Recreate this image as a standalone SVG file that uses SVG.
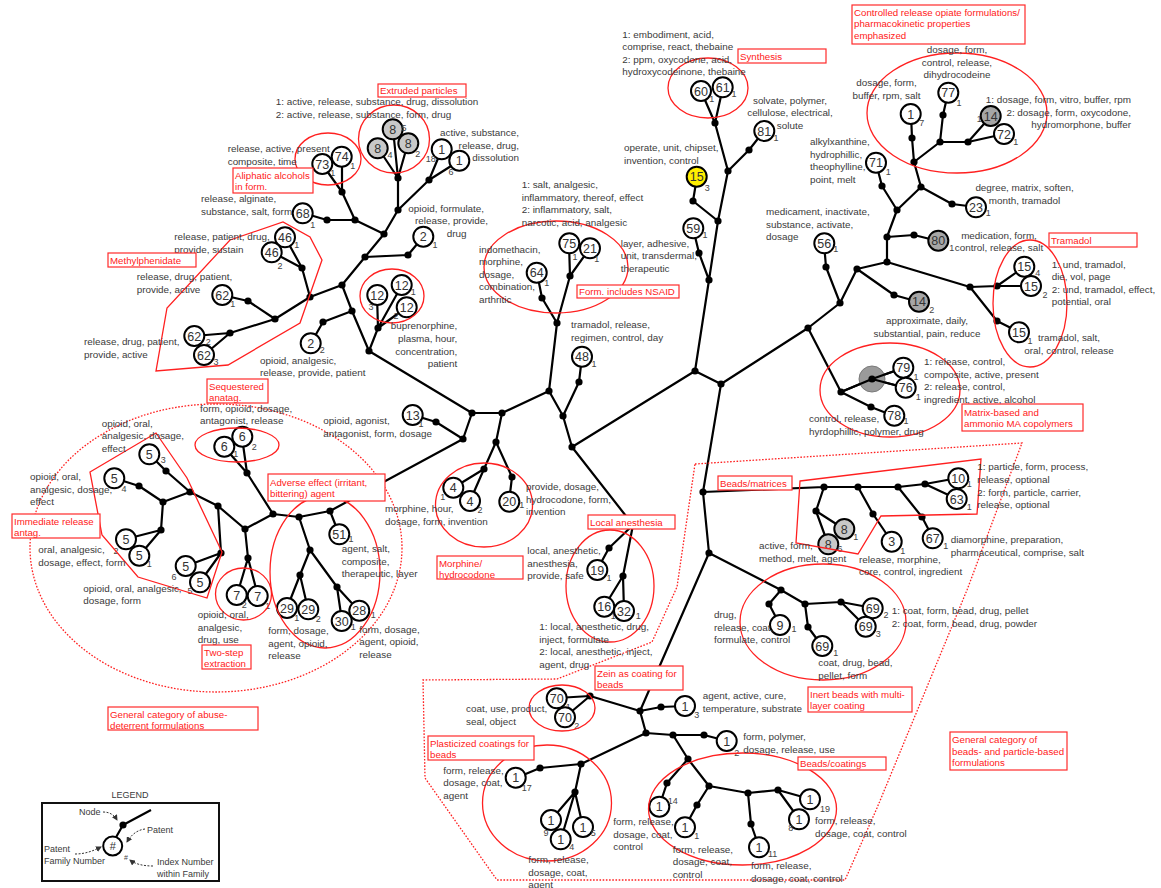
<svg xmlns="http://www.w3.org/2000/svg" width="1161" height="888" viewBox="0 0 1161 888">
<defs>
<style>
text{font-family:"Liberation Sans",Arial,sans-serif}
.conn{stroke:#000;stroke-width:2.2;fill:none;stroke-linecap:round}
.j circle{fill:#000}
.pn circle{fill:#fff;stroke:#000;stroke-width:2}
.pn circle.lg{fill:#c8c8c8}
.pn circle.dg{fill:#a6a6a6}
.pn circle.yl{fill:#ffee00}
.pn text{font-size:12.5px;fill:#333;text-anchor:middle}
.pn text.ix{font-size:9px;fill:#444}
.lbl{font-size:9.9px;fill:#3a3a3a}
.mid{text-anchor:middle}
.end{text-anchor:end}
.rb rect{fill:#fff;stroke:#ff2a2a;stroke-width:1.2}
.rb text{fill:#ff2020;font-size:9.7px}
.re{fill:none;stroke:#ff2020;stroke-width:1.3}
.rd{fill:none;stroke:#ff2020;stroke-width:1.3;stroke-dasharray:1.6 1.6}
.leg{font-size:9px;fill:#3a3a3a}
.la{fill:none;stroke:#333;stroke-width:1;stroke-dasharray:2 1.5}
</style>
<marker id="ah" markerWidth="6" markerHeight="6" refX="5" refY="3" orient="auto"><path d="M0,0L6,3L0,6z" fill="#333"/></marker>
</defs>
<rect width="1161" height="888" fill="#fff"/>

<g id="connectors">
<path class="conn" d="M472,413L502,413M472,413L369,351M472,413L463,439M502,413L496,442M502,413L549,391M549,391L557,323M549,391L563,416M563,416L579,382M579,382L582,357M563,416L572,447M572,447L695,371M572,447L633,525M695,371L721,384M695,371L709,280M721,384L808,328M721,384L703,492M808,328L840,303M808,328L841,392M840,303L826,267M826,267L824,243M840,303L857,269M857,269L887,262M857,269L894,295M894,295L919,302M887,262L887,237M887,262L970,287M887,237L914,235M914,235L938,241M887,237L897,210M897,210L882,186M882,186L876,163M897,210L921,187M921,187L952,204M952,204L976,207M921,187L914,162M914,162L912,138M912,138L911,114M914,162L940,142M940,142L943,115M943,115L948,93M940,142L968,142M968,142L991,116M968,142L1004,134M970,287L997,286M997,286L1024,267M997,286L1031,286M970,287L997,321M997,321L1019,332M841,392L872,379M872,379L903,368M872,379L906,388M841,392L871,407M871,407L894,416"/>
<path class="conn" d="M703,492L824,487M824,487L858,487M858,487L898,487M898,487L925,484M925,484L958,478M925,484L957,499M824,487L816,511M816,511L844,529M816,511L828,544M858,487L873,514M873,514L892,542M898,487L922,517M922,517L933,538M703,492L709,553M709,553L781,590M781,590L769,604M769,604L780,625M781,590L805,604M805,604L808,627M808,627L822,646M805,604L841,602M841,602L873,608M841,602L866,627M709,553L640,711M640,711L661,707M661,707L685,706M640,711L646,733M640,711L590,696M590,696L557,698M590,696L565,717M646,733L673,735M673,735L704,735M704,735L727,741M673,735L688,759M688,759L667,783M667,783L659,807M688,759L709,786M709,786L697,805M697,805L685,827M709,786L748,793M748,793L751,824M751,824L759,847M748,793L778,790M778,790L810,799M778,790L799,819M646,733L581,764M581,764L540,768M540,768L516,778M581,764L575,792M575,792L551,820M575,792L561,839M575,792L583,827"/>
<path class="conn" d="M709,280L699,253M699,253L693,228M709,280L718,221M718,221L693,201M693,201L697,177M718,221L728,171M728,171L749,150M749,150L764,131M728,171L715,123M715,123L701,91M715,123L723,87M557,323L570,276M570,276L569,243M570,276L590,248M557,323L542,298M542,298L537,273M633,525L609,548M609,548L597,570M633,525L623,576M623,576L604,607M623,576L624,611M496,442L484,469M484,469L453,488M484,469L470,501M496,442L512,477M512,477L509,502"/>
<path class="conn" d="M463,439L436,422M436,422L413,415M463,439L330,511M330,511L339,534M330,511L299,517M299,517L273,514M299,517L310,550M310,550L300,575M300,575L287,608M300,575L308,609M310,550L337,587M337,587L342,621M337,587L359,611M273,514L247,473M247,473L224,447M247,473L242,437M273,514L245,529M245,529L218,506M218,506L190,492M190,492L166,471M166,471L149,454M190,492L163,502M163,502L139,486M139,486L114,478M163,502L161,530M161,530L126,539M161,530L139,556M218,506L221,553M221,553L186,566M221,553L200,582M245,529L248,558M248,558L237,595M248,558L258,596"/>
<path class="conn" d="M369,351L378,328M378,328L377,295M378,328L402,285M378,328L407,307M369,351L352,311M352,311L323,322M323,322L311,343M352,311L342,285M342,285L310,297M342,285L365,257M365,257L408,255M408,255L423,237M365,257L384,234M384,234L398,210M398,210L398,178M398,178L393,129M398,178L378,148M398,178L408,143M398,210L429,180M429,180L442,149M429,180L459,161M384,234L355,220M355,220L327,220M327,220L303,213M355,220L342,192M342,192L322,164M342,192L342,157M310,297L302,268M302,268L285,237M302,268L272,252M310,297L275,319M275,319L248,301M248,301L222,295M275,319L230,333M230,333L194,336M230,333L204,355"/>
</g>

<g id="junctions" class="j">
<circle cx="472" cy="413" r="3.6"/><circle cx="502" cy="413" r="3.6"/><circle cx="369" cy="351" r="3.6"/><circle cx="463" cy="439" r="3.6"/><circle cx="496" cy="442" r="3.6"/><circle cx="549" cy="391" r="3.6"/><circle cx="557" cy="323" r="3.6"/><circle cx="563" cy="416" r="3.6"/><circle cx="579" cy="382" r="3.6"/><circle cx="572" cy="447" r="3.6"/><circle cx="695" cy="371" r="3.6"/><circle cx="721" cy="384" r="3.6"/><circle cx="808" cy="328" r="3.6"/><circle cx="840" cy="303" r="3.6"/><circle cx="857" cy="269" r="3.6"/><circle cx="887" cy="262" r="3.6"/><circle cx="887" cy="237" r="3.6"/><circle cx="897" cy="210" r="3.6"/><circle cx="921" cy="187" r="3.6"/><circle cx="914" cy="162" r="3.6"/><circle cx="940" cy="142" r="3.6"/><circle cx="968" cy="142" r="3.6"/><circle cx="970" cy="287" r="3.6"/><circle cx="997" cy="286" r="3.6"/><circle cx="997" cy="321" r="3.6"/><circle cx="826" cy="267" r="3.6"/><circle cx="894" cy="295" r="3.6"/><circle cx="914" cy="235" r="3.6"/><circle cx="882" cy="186" r="3.6"/><circle cx="952" cy="204" r="3.6"/><circle cx="912" cy="138" r="3.6"/><circle cx="943" cy="115" r="3.6"/><circle cx="841" cy="392" r="3.6"/><circle cx="871" cy="407" r="3.6"/>
<circle cx="703" cy="492" r="3.6"/><circle cx="709" cy="553" r="3.6"/><circle cx="824" cy="487" r="3.6"/><circle cx="858" cy="487" r="3.6"/><circle cx="898" cy="487" r="3.6"/><circle cx="925" cy="484" r="3.6"/><circle cx="816" cy="511" r="3.6"/><circle cx="873" cy="514" r="3.6"/><circle cx="922" cy="517" r="3.6"/><circle cx="781" cy="590" r="3.6"/><circle cx="769" cy="604" r="3.6"/><circle cx="805" cy="604" r="3.6"/><circle cx="808" cy="627" r="3.6"/><circle cx="841" cy="602" r="3.6"/><circle cx="640" cy="711" r="3.6"/><circle cx="661" cy="707" r="3.6"/><circle cx="646" cy="733" r="3.6"/><circle cx="673" cy="735" r="3.6"/><circle cx="704" cy="735" r="3.6"/><circle cx="688" cy="759" r="3.6"/><circle cx="667" cy="783" r="3.6"/><circle cx="709" cy="786" r="3.6"/><circle cx="697" cy="805" r="3.6"/><circle cx="748" cy="793" r="3.6"/><circle cx="751" cy="824" r="3.6"/><circle cx="778" cy="790" r="3.6"/><circle cx="581" cy="764" r="3.6"/><circle cx="540" cy="768" r="3.6"/><circle cx="575" cy="792" r="3.6"/><circle cx="590" cy="696" r="3.6"/>
<circle cx="709" cy="280" r="3.6"/><circle cx="699" cy="253" r="3.6"/><circle cx="718" cy="221" r="3.6"/><circle cx="693" cy="201" r="3.6"/><circle cx="728" cy="171" r="3.6"/><circle cx="749" cy="150" r="3.6"/><circle cx="715" cy="123" r="3.6"/><circle cx="570" cy="276" r="3.6"/><circle cx="542" cy="298" r="3.6"/><circle cx="633" cy="525" r="3.6"/><circle cx="609" cy="548" r="3.6"/><circle cx="623" cy="576" r="3.6"/><circle cx="484" cy="469" r="3.6"/><circle cx="512" cy="477" r="3.6"/>
<circle cx="436" cy="422" r="3.6"/><circle cx="273" cy="514" r="3.6"/><circle cx="330" cy="511" r="3.6"/><circle cx="299" cy="517" r="3.6"/><circle cx="310" cy="550" r="3.6"/><circle cx="300" cy="575" r="3.6"/><circle cx="337" cy="587" r="3.6"/><circle cx="247" cy="473" r="3.6"/><circle cx="245" cy="529" r="3.6"/><circle cx="248" cy="558" r="3.6"/><circle cx="218" cy="506" r="3.6"/><circle cx="190" cy="492" r="3.6"/><circle cx="166" cy="471" r="3.6"/><circle cx="163" cy="502" r="3.6"/><circle cx="139" cy="486" r="3.6"/><circle cx="161" cy="530" r="3.6"/><circle cx="221" cy="553" r="3.6"/>
<circle cx="378" cy="328" r="3.6"/><circle cx="352" cy="311" r="3.6"/><circle cx="323" cy="322" r="3.6"/><circle cx="342" cy="285" r="3.6"/><circle cx="365" cy="257" r="3.6"/><circle cx="408" cy="255" r="3.6"/><circle cx="384" cy="234" r="3.6"/><circle cx="398" cy="210" r="3.6"/><circle cx="398" cy="178" r="3.6"/><circle cx="429" cy="180" r="3.6"/><circle cx="355" cy="220" r="3.6"/><circle cx="327" cy="220" r="3.6"/><circle cx="342" cy="192" r="3.6"/><circle cx="310" cy="297" r="3.6"/><circle cx="302" cy="268" r="3.6"/><circle cx="275" cy="319" r="3.6"/><circle cx="248" cy="301" r="3.6"/><circle cx="230" cy="333" r="3.6"/>
</g>

<g id="matrix-group-node">
<circle cx="872" cy="379" r="13" fill="#9a9a9a" stroke="#7a7a7a" stroke-width="1"/>
<path class="conn" d="M872,379L903,368M872,379L906,388M841,392L872,379"/>
<circle cx="872" cy="379" r="3.6" fill="#000"/>
</g>

<g id="n60" class="pn"><circle cx="701" cy="91" r="10"/><text x="701" y="95.5">60</text><text class="ix" x="711.7" y="102.3">1</text></g>
<g id="n61" class="pn"><circle cx="722.7" cy="87.3" r="10"/><text x="722.7" y="91.8">61</text><text class="ix" x="734" y="97.3">1</text></g>
<g id="n81" class="pn"><circle cx="764.3" cy="131" r="10"/><text x="764.3" y="135.5">81</text><text class="ix" x="776" y="141.3">1</text></g>
<g id="n15y" class="pn"><circle class="yl" cx="696.7" cy="176.7" r="10"/><text x="696.7" y="181.2">15</text><text class="ix" x="707.3" y="190.7">3</text></g>
<g id="n59" class="pn"><circle cx="693.3" cy="228.3" r="10"/><text x="693.3" y="232.8">59</text><text class="ix" x="705" y="238">1</text></g>
<g id="n56" class="pn"><circle cx="824.3" cy="243.3" r="10"/><text x="824.3" y="247.8">56</text><text class="ix" x="835.7" y="252.3">1</text></g>
<g id="n71" class="pn"><circle cx="876" cy="162.7" r="10"/><text x="876" y="167.2">71</text><text class="ix" x="888.3" y="174.7">1</text></g>
<g id="n1-7" class="pn"><circle cx="910.7" cy="114" r="10"/><text x="910.7" y="118.5">1</text><text class="ix" x="921.7" y="125.7">7</text></g>
<g id="n77" class="pn"><circle cx="948.3" cy="92.7" r="10"/><text x="948.3" y="97.2">77</text><text class="ix" x="959" y="106.3">1</text></g>
<g id="n14a" class="pn"><circle class="dg" cx="990.7" cy="116" r="10"/><text x="990.7" y="120.5">14</text><text class="ix" x="979.3" y="122.3">1</text></g>
<g id="n72" class="pn"><circle cx="1004" cy="134" r="10"/><text x="1004" y="138.5">72</text><text class="ix" x="1015.7" y="144.7">1</text></g>
<g id="n23" class="pn"><circle cx="976" cy="207.3" r="10"/><text x="976" y="211.8">23</text><text class="ix" x="988.3" y="216.3">1</text></g>
<g id="n80" class="pn"><circle class="dg" cx="938.3" cy="240.7" r="10"/><text x="938.3" y="245.2">80</text><text class="ix" x="951.7" y="251.3">1</text></g>
<g id="n15-4" class="pn"><circle cx="1024.3" cy="266.7" r="10"/><text x="1024.3" y="271.2">15</text><text class="ix" x="1037.7" y="275.7">4</text></g>
<g id="n15-2" class="pn"><circle cx="1031" cy="286" r="10"/><text x="1031" y="290.5">15</text><text class="ix" x="1045" y="298">2</text></g>
<g id="n15-1" class="pn"><circle cx="1019" cy="332.3" r="10"/><text x="1019" y="336.8">15</text><text class="ix" x="1030" y="344">1</text></g>
<g id="n14b" class="pn"><circle class="dg" cx="919" cy="301.7" r="10"/><text x="919" y="306.2">14</text><text class="ix" x="931.7" y="313">2</text></g>
<g id="n79" class="pn"><circle cx="903.3" cy="367.7" r="10"/><text x="903.3" y="372.2">79</text><text class="ix" x="916" y="380.3">1</text></g>
<g id="n76" class="pn"><circle cx="905.7" cy="387.7" r="10"/><text x="905.7" y="392.2">76</text><text class="ix" x="918.3" y="400.3">1</text></g>
<g id="n78" class="pn"><circle cx="894.3" cy="415.7" r="10"/><text x="894.3" y="420.2">78</text><text class="ix" x="906" y="424">1</text></g>
<g id="n10" class="pn"><circle cx="958.3" cy="478.3" r="10"/><text x="958.3" y="482.8">10</text><text class="ix" x="969.3" y="487">1</text></g>
<g id="n63" class="pn"><circle cx="956.7" cy="499" r="10"/><text x="956.7" y="503.5">63</text><text class="ix" x="969.3" y="510.3">1</text></g>
<g id="n3" class="pn"><circle cx="891.7" cy="541.7" r="10"/><text x="891.7" y="546.2">3</text><text class="ix" x="902.7" y="553.7">1</text></g>
<g id="n67" class="pn"><circle cx="932.7" cy="538.3" r="10"/><text x="932.7" y="542.8">67</text><text class="ix" x="945.7" y="549">1</text></g>
<g id="n8-1" class="pn"><circle class="lg" cx="844.3" cy="529" r="10"/><text x="844.3" y="533.5">8</text><text class="ix" x="855.7" y="539.7">1</text></g>
<g id="n8-6" class="pn"><circle class="lg" cx="828.3" cy="544.3" r="10"/><text x="828.3" y="548.8">8</text><text class="ix" x="840" y="552.3">6</text></g>
<g id="n9" class="pn"><circle cx="780" cy="625" r="10"/><text x="780" y="629.5">9</text><text class="ix" x="794" y="632.3">1</text></g>
<g id="n69-1" class="pn"><circle cx="822.3" cy="646" r="10"/><text x="822.3" y="650.5">69</text><text class="ix" x="835.7" y="655.7">1</text></g>
<g id="n69-2" class="pn"><circle cx="872.7" cy="608.3" r="10"/><text x="872.7" y="612.8">69</text><text class="ix" x="886" y="618">2</text></g>
<g id="n69-3" class="pn"><circle cx="865.7" cy="626.7" r="10"/><text x="865.7" y="631.2">69</text><text class="ix" x="878.3" y="637">3</text></g>
<g id="n70-1" class="pn"><circle cx="556.7" cy="698.3" r="10"/><text x="556.7" y="702.8">70</text><text class="ix" x="568.3" y="710.3">1</text></g>
<g id="n70-2" class="pn"><circle cx="565" cy="717.3" r="10"/><text x="565" y="721.8">70</text><text class="ix" x="576.7" y="729">2</text></g>
<g id="n1-3" class="pn"><circle cx="685" cy="706" r="10"/><text x="685" y="710.5">1</text><text class="ix" x="696.7" y="718">3</text></g>
<g id="n1-2" class="pn"><circle cx="726.7" cy="741" r="10"/><text x="726.7" y="745.5">1</text><text class="ix" x="736.7" y="756.3">2</text></g>
<g id="n1-14" class="pn"><circle cx="659.3" cy="806.7" r="10"/><text x="659.3" y="811.2">1</text><text class="ix" x="672.7" y="803.7">14</text></g>
<g id="n1-1" class="pn"><circle cx="685" cy="827.3" r="10"/><text x="685" y="831.8">1</text><text class="ix" x="696.7" y="839">1</text></g>
<g id="n1-11" class="pn"><circle cx="759" cy="847.3" r="10"/><text x="759" y="851.8">1</text><text class="ix" x="772.7" y="857">11</text></g>
<g id="n1-19" class="pn"><circle cx="810" cy="799.3" r="10"/><text x="810" y="803.8">1</text><text class="ix" x="825" y="812.3">19</text></g>
<g id="n1-8" class="pn"><circle cx="799" cy="819.3" r="10"/><text x="799" y="823.8">1</text><text class="ix" x="790.7" y="831.3">8</text></g>
<g id="n1-17" class="pn"><circle cx="515.7" cy="777.7" r="10"/><text x="515.7" y="782.2">1</text><text class="ix" x="526.7" y="791.3">17</text></g>
<g id="n1-9" class="pn"><circle cx="551" cy="820" r="10"/><text x="551" y="824.5">1</text><text class="ix" x="546" y="835.7">9</text></g>
<g id="n1-4" class="pn"><circle cx="560.7" cy="839.3" r="10"/><text x="560.7" y="843.8">1</text><text class="ix" x="571.7" y="850.3">4</text></g>
<g id="n1-5" class="pn"><circle cx="583" cy="827" r="10"/><text x="583" y="831.5">1</text><text class="ix" x="593.3" y="835.7">5</text></g>
<g id="n16" class="pn"><circle cx="604.3" cy="606.7" r="10"/><text x="604.3" y="611.2">16</text><text class="ix" x="613.3" y="619">1</text></g>
<g id="n32" class="pn"><circle cx="624" cy="611" r="10"/><text x="624" y="615.5">32</text><text class="ix" x="638.3" y="619">1</text></g>
<g id="n19" class="pn"><circle cx="597.3" cy="570" r="10"/><text x="597.3" y="574.5">19</text><text class="ix" x="609" y="581.3">1</text></g>
<g id="n48" class="pn"><circle cx="582" cy="356.7" r="10"/><text x="582" y="361.2">48</text><text class="ix" x="594" y="367">1</text></g>
<g id="n64" class="pn"><circle cx="536.7" cy="272.7" r="10"/><text x="536.7" y="277.2">64</text><text class="ix" x="546.7" y="285.7">1</text></g>
<g id="n75" class="pn"><circle cx="569.3" cy="243.3" r="10"/><text x="569.3" y="247.8">75</text><text class="ix" x="575" y="260.3">1</text></g>
<g id="n21" class="pn"><circle cx="590" cy="248.3" r="10"/><text x="590" y="252.8">21</text><text class="ix" x="596.7" y="262.3">1</text></g>
<g id="n4-1" class="pn"><circle cx="453.3" cy="487.7" r="10"/><text x="453.3" y="492.2">4</text><text class="ix" x="442.7" y="499.7">1</text></g>
<g id="n4-2" class="pn"><circle cx="470" cy="501" r="10"/><text x="470" y="505.5">4</text><text class="ix" x="480" y="513">2</text></g>
<g id="n20" class="pn"><circle cx="509.3" cy="501.7" r="10"/><text x="509.3" y="506.2">20</text><text class="ix" x="521.7" y="508">1</text></g>
<g id="n13" class="pn"><circle cx="412.7" cy="415" r="10"/><text x="412.7" y="419.5">13</text><text class="ix" x="421" y="427.3">1</text></g>
<g id="n51" class="pn"><circle cx="339.3" cy="534.3" r="10"/><text x="339.3" y="538.8">51</text><text class="ix" x="351" y="542.3">1</text></g>
<g id="n29-1" class="pn"><circle cx="287" cy="608" r="10"/><text x="287" y="612.5">29</text><text class="ix" x="296.7" y="621.3">1</text></g>
<g id="n29-2" class="pn"><circle cx="308.3" cy="609.3" r="10"/><text x="308.3" y="613.8">29</text><text class="ix" x="318.3" y="622.3">2</text></g>
<g id="n30" class="pn"><circle cx="341.7" cy="621" r="10"/><text x="341.7" y="625.5">30</text><text class="ix" x="353.3" y="630.3">1</text></g>
<g id="n28" class="pn"><circle cx="359.3" cy="610.7" r="10"/><text x="359.3" y="615.2">28</text><text class="ix" x="373.3" y="618">1</text></g>
<g id="n6-1" class="pn"><circle cx="224.3" cy="446.7" r="10"/><text x="224.3" y="451.2">6</text><text class="ix" x="235.7" y="457.3">1</text></g>
<g id="n6-2" class="pn"><circle cx="242.3" cy="436.7" r="10"/><text x="242.3" y="441.2">6</text><text class="ix" x="254.3" y="449.7">2</text></g>
<g id="n7-2" class="pn"><circle cx="236.7" cy="595" r="10"/><text x="236.7" y="599.5">7</text><text class="ix" x="244.3" y="607.5">2</text></g>
<g id="n7-1" class="pn"><circle cx="257.7" cy="596" r="10"/><text x="257.7" y="600.5">7</text><text class="ix" x="267.7" y="608.5">1</text></g>
<g id="n5-3" class="pn"><circle cx="149.3" cy="454.3" r="10"/><text x="149.3" y="458.8">5</text><text class="ix" x="163.3" y="463">3</text></g>
<g id="n5-4" class="pn"><circle cx="114.3" cy="478.3" r="10"/><text x="114.3" y="482.8">5</text><text class="ix" x="124" y="492.3">4</text></g>
<g id="n5-2" class="pn"><circle cx="126" cy="539.3" r="10"/><text x="126" y="543.8">5</text><text class="ix" x="116" y="553.7">2</text></g>
<g id="n5-1" class="pn"><circle cx="139.3" cy="555.7" r="10"/><text x="139.3" y="560.2">5</text><text class="ix" x="149.3" y="567.3">1</text></g>
<g id="n5-6" class="pn"><circle cx="185.7" cy="566" r="10"/><text x="185.7" y="570.5">5</text><text class="ix" x="174" y="579.7">6</text></g>
<g id="n5-5" class="pn"><circle cx="200" cy="582.3" r="10"/><text x="200" y="586.8">5</text><text class="ix" x="190" y="594">5</text></g>
<g id="n12-3" class="pn"><circle cx="377.3" cy="295" r="10"/><text x="377.3" y="299.5">12</text><text class="ix" x="371" y="310.3">3</text></g>
<g id="n12-1" class="pn"><circle cx="401.7" cy="285" r="10"/><text x="401.7" y="289.5">12</text><text class="ix" x="413.3" y="295.3">1</text></g>
<g id="n12-2" class="pn"><circle cx="406.7" cy="307.3" r="10"/><text x="406.7" y="311.8">12</text><text class="ix" x="396" y="319">2</text></g>
<g id="n2-2" class="pn"><circle cx="310.7" cy="343.3" r="10"/><text x="310.7" y="347.8">2</text><text class="ix" x="322.3" y="353">2</text></g>
<g id="n2-1" class="pn"><circle cx="423.3" cy="236.7" r="10"/><text x="423.3" y="241.2">2</text><text class="ix" x="435" y="248">1</text></g>
<g id="n8-5" class="pn"><circle class="lg" cx="392.7" cy="129.3" r="10"/><text x="392.7" y="133.8">8</text><text class="ix" x="404" y="131.3">5</text></g>
<g id="n8-4" class="pn"><circle class="lg" cx="377.7" cy="148.3" r="10"/><text x="377.7" y="152.8">8</text><text class="ix" x="390" y="158">4</text></g>
<g id="n8-2" class="pn"><circle class="lg" cx="408.3" cy="143.3" r="10"/><text x="408.3" y="147.8">8</text><text class="ix" x="417.7" y="157">2</text></g>
<g id="n1-18" class="pn"><circle cx="441.7" cy="149.3" r="10"/><text x="441.7" y="153.8">1</text><text class="ix" x="430.7" y="162.3">18</text></g>
<g id="n1-6" class="pn"><circle cx="459.3" cy="160.7" r="10"/><text x="459.3" y="165.2">1</text><text class="ix" x="451" y="174.7">6</text></g>
<g id="n68" class="pn"><circle cx="302.7" cy="213.3" r="10"/><text x="302.7" y="217.8">68</text><text class="ix" x="312.7" y="228">1</text></g>
<g id="n73" class="pn"><circle cx="322.3" cy="164" r="10"/><text x="322.3" y="168.5">73</text><text class="ix" x="332.7" y="175.7">1</text></g>
<g id="n74" class="pn"><circle cx="341.7" cy="156.7" r="10"/><text x="341.7" y="161.2">74</text><text class="ix" x="352.7" y="168.7">1</text></g>
<g id="n46-1" class="pn"><circle cx="285" cy="237.3" r="10"/><text x="285" y="241.8">46</text><text class="ix" x="296.7" y="248">1</text></g>
<g id="n46-2" class="pn"><circle cx="271.7" cy="252.3" r="10"/><text x="271.7" y="256.8">46</text><text class="ix" x="280" y="268.7">2</text></g>
<g id="n62-1" class="pn"><circle cx="222.3" cy="295" r="10"/><text x="222.3" y="299.5">62</text><text class="ix" x="232.7" y="307">1</text></g>
<g id="n62-2" class="pn"><circle cx="194.3" cy="336" r="10"/><text x="194.3" y="340.5">62</text><text class="ix" x="208.3" y="345.3">2</text></g>
<g id="n62-3" class="pn"><circle cx="204" cy="355" r="10"/><text x="204" y="359.5">62</text><text class="ix" x="216" y="364.7">3</text></g>

<g id="regions">
<ellipse class="re" cx="394" cy="139" rx="35.5" ry="34"/>
<ellipse class="re" cx="328" cy="159" rx="33" ry="26"/>
<ellipse class="re" cx="392" cy="296" rx="32" ry="27"/>
<ellipse class="re" cx="556" cy="267" rx="72" ry="46"/>
<ellipse class="re" cx="708" cy="88" rx="40" ry="30"/>
<ellipse class="re" cx="957" cy="113" rx="90" ry="60"/>
<ellipse class="re" cx="1030" cy="303.5" rx="37" ry="63.5"/>
<ellipse class="re" cx="890" cy="390" rx="70" ry="47"/>
<ellipse class="re" cx="237" cy="445" rx="42" ry="17"/>
<ellipse class="re" cx="243.5" cy="594" rx="28" ry="26"/>
<ellipse class="re" cx="325" cy="572" rx="55" ry="76"/>
<ellipse class="re" cx="484" cy="505" rx="48.5" ry="42"/>
<ellipse class="re" cx="610" cy="586" rx="44" ry="56"/>
<ellipse class="re" cx="562" cy="708" rx="33" ry="23"/>
<ellipse class="re" cx="547" cy="803" rx="64.5" ry="58"/>
<ellipse class="re" cx="742.5" cy="809" rx="94" ry="56"/>
<ellipse class="re" cx="823" cy="622" rx="83" ry="58"/>
<polygon class="re" points="230,240 283,222 310,237 322,260 300,323 228,365 156,371 167,308"/>
<polygon class="re" points="90,472 156,433 187,478 222,552 207,598 138,577 102,535"/>
<polygon class="re" points="800,481 981,459 977,514 881,516 858,554 796,543"/>
<ellipse class="rd" cx="216" cy="548" rx="186" ry="144"/>
<polygon class="rd" points="695,464 1022,443 967,590 877,808 845,880 497,880 425,778 423,680 557,679 652,642 677,587"/>
</g>

<g id="labels" class="lbl">
<text x="275.7" y="105">1: active, release, substance, drug, dissolution<tspan x="275.7" dy="12.5">2: active, release, substance, form, drug</tspan></text>
<text x="227.7" y="152">release, active, present<tspan x="227.7" dy="12.5">composite, time</tspan></text>
<text x="201" y="202">release, alginate,<tspan x="201" dy="12.5">substance, salt, form</tspan></text>
<text x="174.3" y="240">release, patient, drug,<tspan x="174.3" dy="12.5">provide, sustain</tspan></text>
<text x="136.7" y="280">release, drug, patient,<tspan x="136.7" dy="12.5">provide, active</tspan></text>
<text x="84" y="345">release, drug, patient,<tspan x="84" dy="12.5">provide, active</tspan></text>
<text x="260" y="363.5">opioid, analgesic,<tspan x="260" dy="12.5">release, provide, patient</tspan></text>
<text x="200" y="411.5">form, opioid, dosage,<tspan x="200" dy="12.5">antagonist, release</tspan></text>
<text x="101.7" y="426.5">opioid, oral,<tspan x="101.7" dy="12.5">analgesic, dosage,</tspan><tspan x="101.7" dy="12.5">effect</tspan></text>
<text x="30" y="480">opioid, oral,<tspan x="30" dy="12.5">analgesic, dosage,</tspan><tspan x="30" dy="12.5">effect</tspan></text>
<text x="38.3" y="553">oral, analgesic,<tspan x="38.3" dy="12.5">dosage, effect, form</tspan></text>
<text x="83.3" y="591.5">opioid, oral, analgesic,<tspan x="83.3" dy="12.5">dosage, form</tspan></text>
<text x="197.7" y="618">opioid, oral,<tspan x="197.7" dy="12.5">analgesic,</tspan><tspan x="197.7" dy="12.5">drug, use</tspan></text>
<text x="268.3" y="634">form, dosage,<tspan x="268.3" dy="12.5">agent, opioid,</tspan><tspan x="268.3" dy="12.5">release</tspan></text>
<text x="359.3" y="632.5">form, dosage,<tspan x="359.3" dy="12.5">agent, opioid,</tspan><tspan x="359.3" dy="12.5">release</tspan></text>
<text x="341.7" y="552">agent, salt,<tspan x="341.7" dy="12.5">composite,</tspan><tspan x="341.7" dy="12.5">therapeutic, layer</tspan></text>
<text x="385" y="512">morphine, hour,<tspan x="385" dy="12.5">dosage, form, invention</tspan></text>
<text x="323.3" y="424">opioid, agonist,<tspan x="323.3" dy="12.5">antagonist, form, dosage</tspan></text>
<text class="end" x="457.3" y="329">buprenorphine,<tspan x="457.3" dy="12.8">plasma, hour,</tspan><tspan x="457.3" dy="12.8">concentration,</tspan><tspan x="457.3" dy="12.8">patient</tspan></text>
<text x="408.3" y="211.5">opioid, formulate,<tspan x="415" dy="12.5">release, provide,</tspan><tspan x="446.7" dy="12.5">drug</tspan></text>
<text class="end" x="519" y="136">active, substance,<tspan x="519" dy="12.5">release, drug,</tspan><tspan x="519" dy="12.5">dissolution</tspan></text>
<text x="521.7" y="188">1: salt, analgesic,<tspan x="521.7" dy="12.5">inflammatory, thereof, effect</tspan><tspan x="521.7" dy="12.5">2: inflammatory, salt,</tspan><tspan x="521.7" dy="12.5">narcotic, acid, analgesic</tspan></text>
<text x="479" y="252.5">indomethacin,<tspan x="479" dy="12.5">morphine,</tspan><tspan x="479" dy="12.5">dosage,</tspan><tspan x="479" dy="12.5">combination,</tspan><tspan x="479" dy="12.5">arthritic</tspan></text>
<text x="571" y="327.5">tramadol, release,<tspan x="571" dy="13">regimen, control, day</tspan></text>
<text x="526" y="490">provide, dosage,<tspan x="526" dy="12.5">hydrocodone, form,</tspan><tspan x="526" dy="12.5">invention</tspan></text>
<text x="527.3" y="554">local, anesthetic,<tspan x="527.3" dy="12.5">anesthesia,</tspan><tspan x="527.3" dy="12.5">provide, safe</tspan></text>
<text x="539.3" y="630">1: local, anesthetic, drug,<tspan x="539.3" dy="12.5">inject, formulate</tspan><tspan x="539.3" dy="12.5">2: local, anesthetic, inject,</tspan><tspan x="539.3" dy="12.5">agent, drug</tspan></text>
<text x="466" y="712">coat, use, product,<tspan x="466" dy="12.5">seal, object</tspan></text>
<text x="443.3" y="773.5">form, release,<tspan x="443.3" dy="12.5">dosage, coat,</tspan><tspan x="443.3" dy="12.5">agent</tspan></text>
<text x="528.3" y="863">form, release,<tspan x="528.3" dy="12.5">dosage, coat,</tspan><tspan x="528.3" dy="12.5">agent</tspan></text>
<text x="702.7" y="699">agent, active, cure,<tspan x="702.7" dy="12.5">temperature, substrate</tspan></text>
<text x="743.3" y="740">form, polymer,<tspan x="743.3" dy="12.5">dosage, release, use</tspan></text>
<text x="613.3" y="825">form, release,<tspan x="613.3" dy="12.5">dosage, coat,</tspan><tspan x="613.3" dy="12.5">control</tspan></text>
<text x="672.7" y="852.5">form, release,<tspan x="672.7" dy="12.5">dosage, coat,</tspan><tspan x="672.7" dy="12.5">control</tspan></text>
<text x="751" y="869">form, release,<tspan x="751" dy="12.5">dosage, coat, control</tspan></text>
<text x="815" y="824">form, release,<tspan x="815" dy="13">dosage, coat, control</tspan></text>
<text x="714" y="618">drug,<tspan x="714" dy="12.5">release, coat,</tspan><tspan x="714" dy="12.5">formulate, control</tspan></text>
<text x="818.3" y="666">coat, drug, bead,<tspan x="818.3" dy="12.5">pellet, form</tspan></text>
<text x="891.7" y="614">1: coat, form, bead, drug, pellet<tspan x="891.7" dy="12.5">2: coat, form, bead, drug, powder</tspan></text>
<text x="759" y="549">active, form,<tspan x="759" dy="12.5">method, melt, agent</tspan></text>
<text x="859" y="562.5">release, morphine,<tspan x="859" dy="12.5">core, control, ingredient</tspan></text>
<text x="950.7" y="543">diamorphine, preparation,<tspan x="950.7" dy="12.5">pharmaceutical, comprise, salt</tspan></text>
<text x="977.3" y="470">1: particle, form, process,<tspan x="977.3" dy="12.8">release, optional</tspan><tspan x="977.3" dy="12.8">2: form, particle, carrier,</tspan><tspan x="977.3" dy="12.8">release, optional</tspan></text>
<text x="809" y="422">control, release,<tspan x="809" dy="12.5">hyrdophillic, polymer, drug</tspan></text>
<text x="924" y="365">1: release, control,<tspan x="924" dy="12.5">composite, active, present</tspan><tspan x="924" dy="12.5">2: release, control,</tspan><tspan x="924" dy="12.5">ingredient, active, alcohol</tspan></text>
<text class="mid" x="927" y="324">approximate, daily,<tspan x="927" dy="12.5">substantial, pain, reduce</tspan></text>
<text class="mid" x="1069" y="341">tramadol, salt,<tspan x="1069" dy="12.5">oral, control, release</tspan></text>
<text x="1051.7" y="267.5">1: und, tramadol,<tspan x="1051.7" dy="12.5">die, vol, page</tspan><tspan x="1051.7" dy="12.5">2: und, tramadol, effect,</tspan><tspan x="1051.7" dy="12.5">potential, oral</tspan></text>
<text class="mid" x="999" y="238.5">medication, form,<tspan x="999" dy="12.8">control, release, salt</tspan></text>
<text class="mid" x="1024.5" y="191">degree, matrix, soften,<tspan x="1024.5" dy="13">month, tramadol</tspan></text>
<text class="end" x="1131" y="102.5">1: dosage, form, vitro, buffer, rpm<tspan x="1131" dy="13">2: dosage, form, oxycodone,</tspan><tspan x="1131" dy="12.5">hydromorphone, buffer</tspan></text>
<text class="mid" x="957" y="53">dosage, form,<tspan x="957" dy="12.5">control, release,</tspan><tspan x="957" dy="12.5">dihydrocodeine</tspan></text>
<text class="mid" x="886.5" y="86">dosage, form,<tspan x="886.5" dy="12.5">buffer, rpm, salt</tspan></text>
<text x="810" y="145">alkylxanthine,<tspan x="810" dy="12.5">hydrophillic,</tspan><tspan x="810" dy="12.5">theophylline,</tspan><tspan x="810" dy="12.5">point, melt</tspan></text>
<text x="766" y="215">medicament, inactivate,<tspan x="766" dy="12.5">substance, activate,</tspan><tspan x="766" dy="12.5">dosage</tspan></text>
<text class="mid" x="790" y="103.5">solvate, polymer,<tspan x="790" dy="12.5">cellulose, electrical,</tspan><tspan x="790" dy="12.5">solute</tspan></text>
<text x="622.3" y="37.5">1: embodiment, acid,<tspan x="622.3" dy="12.5">comprise, react, thebaine</tspan><tspan x="622.3" dy="12.5">2: ppm, oxycodone, acid,</tspan><tspan x="622.3" dy="12.5">hydroxycodeinone, thebaine</tspan></text>
<text x="624" y="151">operate, unit, chipset,<tspan x="624" dy="12.5">invention, control</tspan></text>
<text x="620.7" y="246.5">layer, adhesive,<tspan x="620.7" dy="12.5">unit, transdermal,</tspan><tspan x="620.7" dy="12.5">therapeutic</tspan></text>
</g>

<g id="annotations" class="rb">
<g id="b-extruded"><rect x="378" y="84" width="88" height="13"/><text x="380" y="94">Extruded particles</text></g>
<g id="b-aliphatic"><rect x="233" y="168" width="80" height="25"/><text x="235" y="178.5">Aliphatic alcohols<tspan x="235" dy="11">in form.</tspan></text></g>
<g id="b-methyl"><rect x="108" y="253" width="88" height="14"/><text x="110" y="263.5">Methylphenidate</text></g>
<g id="b-synthesis"><rect x="738" y="49" width="88" height="14"/><text x="740" y="59.5">Synthesis</text></g>
<g id="b-controlled"><rect x="852" y="5" width="173" height="39"/><text x="854" y="15.5">Controlled release opiate formulations/<tspan x="854" dy="11.5">pharmacokinetic properties</tspan><tspan x="854" dy="11.5">emphasized</tspan></text></g>
<g id="b-nsaid"><rect x="577" y="285" width="102" height="13"/><text x="579" y="295">Form. includes NSAID</text></g>
<g id="b-tramadol"><rect x="1049" y="233" width="88" height="14"/><text x="1051" y="243.5">Tramadol</text></g>
<g id="b-matrix"><rect x="962" y="404" width="121" height="27"/><text x="964" y="415.5">Matrix-based and<tspan x="964" dy="11.5">ammonio MA copolymers</tspan></text></g>
<g id="b-seq"><rect x="207" y="379" width="61" height="24"/><text x="209" y="390">Sequestered<tspan x="209" dy="11">anatag.</tspan></text></g>
<g id="b-adverse"><rect x="268" y="474" width="117" height="27"/><text x="270" y="485.5">Adverse effect (irritant,<tspan x="270" dy="11.5">bittering) agent</tspan></text></g>
<g id="b-immediate"><rect x="12" y="514" width="88" height="24"/><text x="14" y="525">Immediate release<tspan x="14" dy="11">antag.</tspan></text></g>
<g id="b-twostep"><rect x="202" y="645" width="49" height="24"/><text x="204" y="656">Two-step<tspan x="204" dy="11">extraction</tspan></text></g>
<g id="b-abuse"><rect x="108" y="707" width="150" height="23"/><text x="110" y="717.5">General category of abuse-<tspan x="110" dy="11">deterrent formulations</tspan></text></g>
<g id="b-morphine"><rect x="437" y="556" width="86" height="23"/><text x="439" y="566.5">Morphine/<tspan x="439" dy="11">hydrocodone</tspan></text></g>
<g id="b-local"><rect x="588" y="515" width="87" height="14"/><text x="590" y="525.5">Local anesthesia</text></g>
<g id="b-beadsmat"><rect x="718" y="476" width="74" height="14"/><text x="720" y="486.5">Beads/matrices</text></g>
<g id="b-zein"><rect x="595" y="666" width="88" height="24"/><text x="597" y="677">Zein as coating for<tspan x="597" dy="11">beads</tspan></text></g>
<g id="b-inert"><rect x="808" y="687" width="104" height="25"/><text x="810" y="698">Inert beads with multi-<tspan x="810" dy="11">layer coating</tspan></text></g>
<g id="b-plast"><rect x="428" y="736" width="106" height="24"/><text x="430" y="747">Plasticized coatings for<tspan x="430" dy="11">beads</tspan></text></g>
<g id="b-coat"><rect x="798" y="757" width="88" height="13"/><text x="800" y="767">Beads/coatings</text></g>
<g id="b-beadsgen"><rect x="950" y="732" width="117" height="38"/><text x="952" y="743">General category of<tspan x="952" dy="11.7">beads- and particle-based</tspan><tspan x="952" dy="11.7">formulations</tspan></text></g>
</g>

<g id="legend">
<text class="leg mid" x="130" y="798" font-size="8">LEGEND</text>
<rect x="42" y="803" width="177" height="78" fill="none" stroke="#111" stroke-width="2"/>
<path d="M123,825L151,810M123,825L115,839" stroke="#000" stroke-width="2.2" fill="none"/>
<circle cx="123" cy="825" r="3.6" fill="#000"/>
<circle cx="112.7" cy="846" r="9.5" fill="#fff" stroke="#000" stroke-width="2"/>
<text x="112.7" y="850" font-size="11" fill="#333" text-anchor="middle">#</text>
<text x="126" y="860" font-size="7" fill="#444" text-anchor="middle">#</text>
<text class="leg" x="79" y="815">Node</text>
<text class="leg" x="147" y="832.5">Patent</text>
<text class="leg" x="44" y="852">Patent<tspan x="44" dy="12">Family Number</tspan></text>
<text class="leg" x="157" y="865">Index Number<tspan x="157" dy="11.7">within Family</tspan></text>
<path class="la" d="M103,812C110,812 114,815 117,820" marker-end="url(#ah)"/>
<path class="la" d="M145,829C137,830 131,835 127,842" marker-end="url(#ah)"/>
<path class="la" d="M75,854C85,854 93,851 101,847" marker-end="url(#ah)"/>
<path class="la" d="M153,866C143,866 135,864 130,860" marker-end="url(#ah)"/>
</g>
</svg>
